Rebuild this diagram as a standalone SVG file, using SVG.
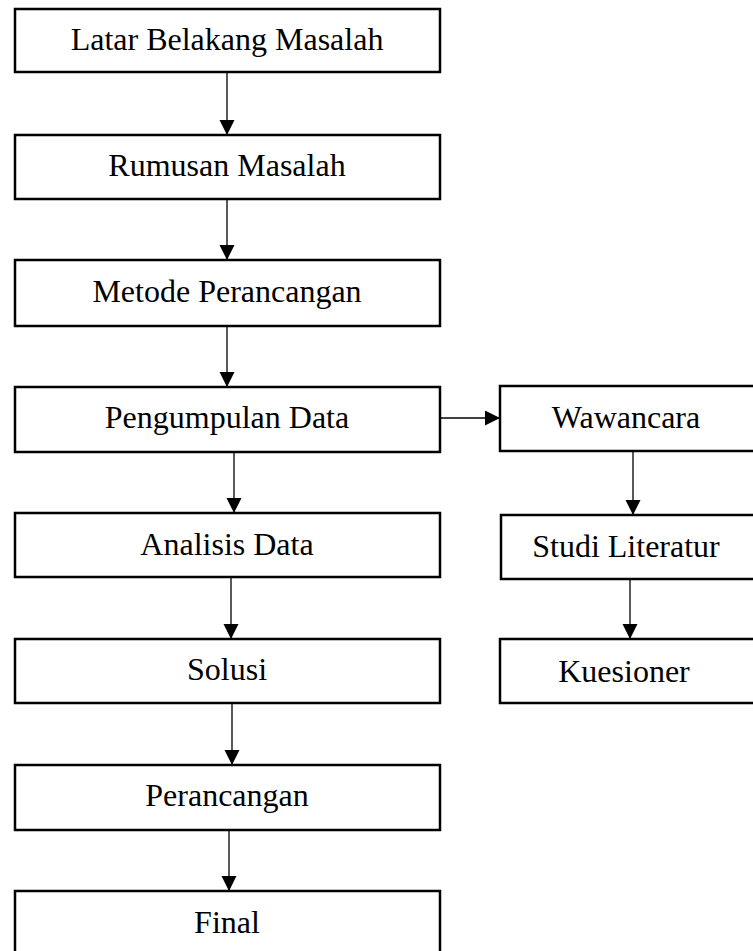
<svg xmlns="http://www.w3.org/2000/svg" width="753" height="951" viewBox="0 0 753 951">
<style>
.box{fill:#fff;stroke:#000;stroke-width:2.5}
.lbl{font-family:"Liberation Serif","Times New Roman",serif;font-size:32px;fill:#000;text-anchor:middle}
.edge{stroke:#000;stroke-width:1.3;fill:none}
</style>
<defs>
<marker id="ah" markerUnits="userSpaceOnUse" markerWidth="16" markerHeight="16" refX="15" refY="7.5" orient="auto">
<path d="M0,0 L15,7.5 L0,15 Z" fill="#000"/>
</marker>
</defs>
<rect width="753" height="951" fill="#fff"/>
<g id="connectors">
<line class="edge" x1="227" y1="72" x2="227" y2="135" marker-end="url(#ah)"/>
<line class="edge" x1="227" y1="199" x2="227" y2="260" marker-end="url(#ah)"/>
<line class="edge" x1="227" y1="326" x2="227" y2="387" marker-end="url(#ah)"/>
<line class="edge" x1="234" y1="452" x2="234" y2="513" marker-end="url(#ah)"/>
<line class="edge" x1="231" y1="577" x2="231" y2="639" marker-end="url(#ah)"/>
<line class="edge" x1="232" y1="703" x2="232" y2="765" marker-end="url(#ah)"/>
<line class="edge" x1="229" y1="830" x2="229" y2="891" marker-end="url(#ah)"/>
<line class="edge" x1="440" y1="418" x2="500" y2="418" marker-end="url(#ah)"/>
<line class="edge" x1="633" y1="451" x2="633" y2="515" marker-end="url(#ah)"/>
<line class="edge" x1="630" y1="579" x2="630" y2="639" marker-end="url(#ah)"/>
</g>
<g id="n1"><rect class="box" x="15" y="9" width="425" height="63"/><text class="lbl" x="227" y="50">Latar Belakang Masalah</text></g>
<g id="n2"><rect class="box" x="15" y="135" width="425" height="64"/><text class="lbl" x="227" y="176">Rumusan Masalah</text></g>
<g id="n3"><rect class="box" x="15" y="260" width="425" height="66"/><text class="lbl" x="227" y="302">Metode Perancangan</text></g>
<g id="n4"><rect class="box" x="15" y="387" width="425" height="65"/><text class="lbl" x="227" y="428">Pengumpulan Data</text></g>
<g id="n5"><rect class="box" x="15" y="513" width="425" height="64"/><text class="lbl" x="227" y="555">Analisis Data</text></g>
<g id="n6"><rect class="box" x="15" y="639" width="425" height="64"/><text class="lbl" x="227" y="680">Solusi</text></g>
<g id="n7"><rect class="box" x="15" y="765" width="425" height="65"/><text class="lbl" x="227" y="806">Perancangan</text></g>
<g id="n8"><rect class="box" x="15" y="891" width="425" height="70"/><text class="lbl" x="227" y="933">Final</text></g>
<g id="n9"><rect class="box" x="500" y="386" width="262" height="65"/><text class="lbl" x="626" y="428">Wawancara</text></g>
<g id="n10"><rect class="box" x="501" y="515" width="262" height="64"/><text class="lbl" x="626" y="557">Studi Literatur</text></g>
<g id="n11"><rect class="box" x="500" y="639" width="262" height="64"/><text class="lbl" x="624" y="682">Kuesioner</text></g>
</svg>
